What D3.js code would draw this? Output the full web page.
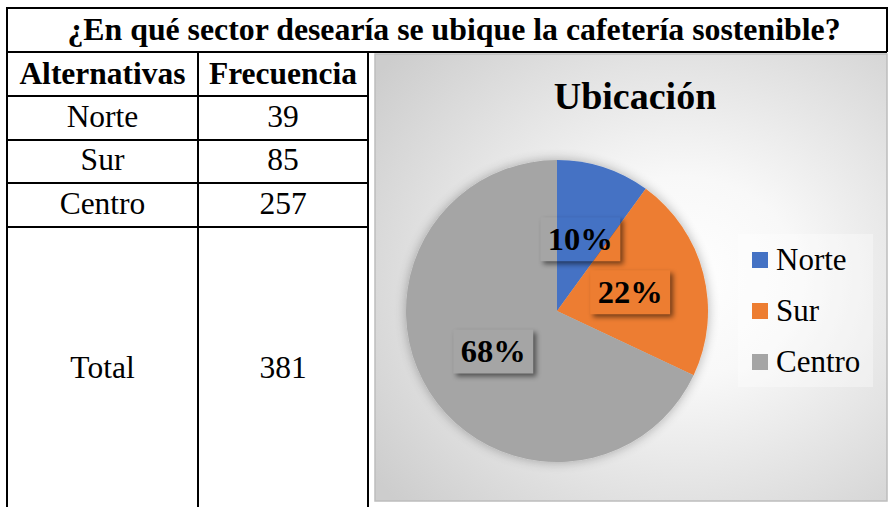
<!DOCTYPE html>
<html>
<head>
<meta charset="utf-8">
<title>Ubicación</title>
<script src="https://cdn.jsdelivr.net/npm/d3@7"></script>
<style>
  body { margin: 0; background: #fff; }
  svg { display: block; }
</style>
</head>
<body>
<svg id="svg"></svg>
<script>
// table data
var tableTitle = "¿En qué sector desearía se ubique la cafetería sostenible?";
var headers = ["Alternativas", "Frecuencia"];
var categories = ["Norte", "Sur", "Centro"];
var frequencies = [39, 85, 257];
var totalLabel = "Total";

// chart data (percent shown on the pie)
var chartTitle = "Ubicación";
var percents = [10, 22, 68];
var colors = ["#4472C4", "#ED7D31", "#A5A5A5"];

var FONT = "'Tinos', 'Times', serif";
var width = 889, height = 507;
var svg = d3.select("#svg").attr("width", width).attr("height", height);
var defs = svg.append("defs");

// table geometry
var tLeft = 7, tRight = 887, tTop = 8;
var colX = [tLeft, 198, 368];
var rowY = [52, 96, 140, 183, 227, 510];

// ---- chart panel ----
var chart = {x: 375, y: 54, w: 512, h: 447};

var grad = defs.append("radialGradient").attr("id", "bg")
    .attr("cx", "0.6").attr("cy", "0.5").attr("r", "0.75");
grad.append("stop").attr("offset", "0").attr("stop-color", "#ffffff");
grad.append("stop").attr("offset", "0.3").attr("stop-color", "#f8f8f8");
grad.append("stop").attr("offset", "1").attr("stop-color", "#cdcdcd");

svg.append("rect")
    .attr("x", chart.x).attr("y", chart.y)
    .attr("width", chart.w).attr("height", chart.h)
    .attr("fill", "url(#bg)")
    .attr("stroke", "#bdbdbd").attr("stroke-width", 1.5);

// shadows
var pieShadow = defs.append("filter").attr("id", "pieShadow")
    .attr("x", "-20%").attr("y", "-20%").attr("width", "140%").attr("height", "140%");
pieShadow.append("feGaussianBlur").attr("in", "SourceAlpha").attr("stdDeviation", 6).attr("result", "b");
pieShadow.append("feComponentTransfer").attr("in", "b").attr("result", "b2")
    .append("feFuncA").attr("type", "linear").attr("slope", 0.3);
var m1 = pieShadow.append("feMerge");
m1.append("feMergeNode").attr("in", "b2");
m1.append("feMergeNode").attr("in", "SourceGraphic");

var boxShadow = defs.append("filter").attr("id", "boxShadow")
    .attr("x", "-30%").attr("y", "-30%").attr("width", "160%").attr("height", "160%");
boxShadow.append("feGaussianBlur").attr("in", "SourceAlpha").attr("stdDeviation", 2.5);

svg.append("text")
    .attr("x", 635).attr("y", 109)
    .attr("text-anchor", "middle")
    .style("font-family", FONT)
    .style("font-weight", "bold").style("font-size", "38px")
    .text(chartTitle);

var cx = 557, cy = 311, r = 151;
var pie = d3.pie().sort(null).value(function(d) { return d; });
var arcs = pie(percents);
var arc = d3.arc().innerRadius(0).outerRadius(r);

var pieG = svg.append("g").attr("transform", "translate(" + cx + "," + cy + ")");
pieG.append("g").attr("filter", "url(#pieShadow)")
  .selectAll("path").data(arcs).enter().append("path")
    .attr("d", arc)
    .attr("fill", function(d, i) { return colors[i]; });

// data label boxes: shadow first, then the pie redrawn inside the boxes
var boxW = 80, boxH = 44;
var labelPos = arcs.map(function(d) { return arc.centroid(d); });

pieG.selectAll("rect.shadow").data(labelPos).enter().append("rect")
    .attr("class", "shadow")
    .attr("x", function(p) { return p[0] - boxW / 2 + 3; })
    .attr("y", function(p) { return p[1] - boxH / 2 + 3; })
    .attr("width", boxW).attr("height", boxH)
    .attr("fill", "#000").attr("opacity", 0.5)
    .attr("filter", "url(#boxShadow)");

var clip = defs.append("clipPath").attr("id", "boxClip");
clip.selectAll("rect").data(labelPos).enter().append("rect")
    .attr("x", function(p) { return p[0] - boxW / 2; })
    .attr("y", function(p) { return p[1] - boxH / 2; })
    .attr("width", boxW).attr("height", boxH);

pieG.append("g").attr("clip-path", "url(#boxClip)")
  .selectAll("path").data(arcs).enter().append("path")
    .attr("d", arc)
    .attr("fill", function(d, i) { return colors[i]; });

pieG.selectAll("text.lbl").data(arcs).enter().append("text")
    .attr("class", "lbl")
    .attr("x", function(d) { return arc.centroid(d)[0]; })
    .attr("y", function(d) { return arc.centroid(d)[1] + 11; })
    .attr("text-anchor", "middle")
    .style("font-family", FONT)
    .style("font-weight", "bold").style("font-size", "32.5px")
    .text(function(d) { return d.data + "%"; });

// legend
var legend = svg.append("g");
legend.append("rect")
    .attr("x", 738).attr("y", 234).attr("width", 135).attr("height", 153)
    .attr("fill", "#ffffff").attr("opacity", 0.35);
var legY = d3.scalePoint().domain(categories).range([260, 362]);
var items = legend.selectAll("g.item").data(categories).enter().append("g")
    .attr("transform", function(d) { return "translate(752," + legY(d) + ")"; });
items.append("rect")
    .attr("x", 0).attr("y", -8).attr("width", 16).attr("height", 16)
    .attr("fill", function(d, i) { return colors[i]; });
items.append("text")
    .attr("x", 24).attr("y", 10)
    .style("font-family", FONT)
    .style("font-size", "31px")
    .text(function(d) { return d; });

// ---- table ----
var tbl = svg.append("g");

tbl.append("text")
    .attr("x", 454).attr("y", 40)
    .attr("text-anchor", "middle")
    .style("font-family", FONT)
    .style("font-weight", "bold").style("font-size", "31.8px")
    .text(tableTitle);

var colCenter = [(colX[0] + colX[1]) / 2, (colX[1] + colX[2]) / 2];

tbl.selectAll("text.hdr").data(headers).enter().append("text")
    .attr("class", "hdr")
    .attr("x", function(d, i) { return colCenter[i]; })
    .attr("y", 84)
    .attr("text-anchor", "middle")
    .style("font-family", FONT)
    .style("font-weight", "bold").style("font-size", "31.5px")
    .text(function(d) { return d; });

var rowBase = [127, 170, 214];
var rows = tbl.selectAll("g.row").data(categories).enter().append("g");
rows.append("text")
    .attr("x", colCenter[0]).attr("y", function(d, i) { return rowBase[i]; })
    .attr("text-anchor", "middle")
    .style("font-family", FONT).style("font-size", "31.5px")
    .text(function(d) { return d; });
rows.append("text")
    .attr("x", colCenter[1]).attr("y", function(d, i) { return rowBase[i]; })
    .attr("text-anchor", "middle")
    .style("font-family", FONT).style("font-size", "31.5px")
    .text(function(d, i) { return frequencies[i]; });

tbl.append("text")
    .attr("x", colCenter[0]).attr("y", 378)
    .attr("text-anchor", "middle")
    .style("font-family", FONT).style("font-size", "31.5px")
    .text(totalLabel);
tbl.append("text")
    .attr("x", colCenter[1]).attr("y", 378)
    .attr("text-anchor", "middle")
    .style("font-family", FONT).style("font-size", "31.5px")
    .text(d3.sum(frequencies));

// grid lines
var line = function(x1, y1, x2, y2) {
  tbl.append("line")
    .attr("x1", x1).attr("y1", y1).attr("x2", x2).attr("y2", y2)
    .attr("stroke", "#000").attr("stroke-width", 2);
};
line(tLeft - 1, tTop, tRight + 1, tTop);
line(tLeft, tTop, tLeft, height);
line(tRight, tTop, tRight, rowY[0]);
line(tLeft, rowY[0], tRight, rowY[0]);
for (var k = 1; k < 5; k++) line(tLeft, rowY[k], colX[2], rowY[k]);
line(colX[1], rowY[0], colX[1], height);
line(colX[2], rowY[0], colX[2], height);
</script>
</body>
</html>
